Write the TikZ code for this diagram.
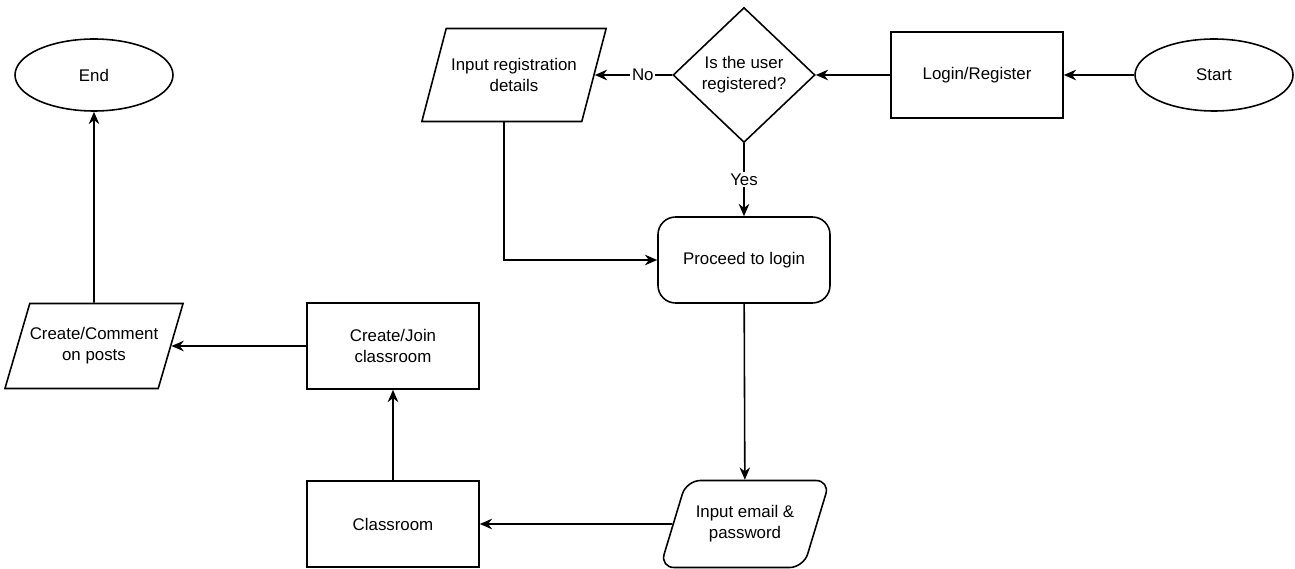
\documentclass[tikz,border=0pt]{standalone}
\usepackage{fontspec}
\setmainfont{Liberation Sans}
\usepackage{tikz}
\usetikzlibrary{positioning, arrows.meta, shapes.geometric}
\definecolor{inkgray}{RGB}{40,40,40}

\begin{document}
\begin{tikzpicture}[font=\fontsize{9.6}{12}\selectfont, >={Stealth[length=7pt, width=6pt]}, line width=0.9pt,
  term/.style={draw, ellipse, minimum width=3.16cm, minimum height=1.44cm, inner sep=0pt},
  procbox/.style={draw, rectangle, minimum width=3.44cm, minimum height=1.72cm, align=center},
  iobox/.style={draw, trapezium, trapezium left angle=56, trapezium right angle=124,
    trapezium stretches=true, align=center, inner sep=0pt},
  decide/.style={draw, diamond, minimum width=2.84cm, minimum height=2.7cm, inner sep=0pt, align=center},
  lbl/.style={fill=white, inner sep=1pt}]
  \useasboundingbox (0,0) rectangle (25.9,-11.38);
  % Top row
  \node[term] (start) at (24.28,-1.5) {Start};
  \node[procbox] (login) at (19.54,-1.5) {Login/Register};
  \node[decide] (ask) at (14.88,-1.5) {Is the user\\registered?};
  \node[iobox, minimum width=3.72cm, minimum height=1.86cm] (reginput) at (10.28,-1.5) {Input registration\\details};
  \node[term] (finish) at (1.88,-1.5) {End};
  % Middle and bottom rows
  \node[procbox, rounded corners=10pt] (proceed) at (14.88,-5.2) {Proceed to login};
  \node[iobox, trapezium left angle=59, trapezium right angle=121, rounded corners=8pt,
    minimum width=3.4cm, minimum height=1.74cm] (creds) at (14.9,-10.48) {Input email \&\\password};
  \node[procbox] (classroom) at (7.86,-10.48) {Classroom};
  \node[procbox] (joinroom) at (7.86,-6.92) {Create/Join\\classroom};
  \node[iobox, minimum width=3.36cm, minimum height=1.7cm] (posts) at (1.88,-6.92) {Create/Comment\\on posts};
  % Arrows
  \draw[->] (start) -- (login);
  \draw[->] (login) -- (ask);
  \draw[->] (ask) -- node[lbl, pos=0.38] {No} (reginput);
  \draw[->] (ask) -- node[lbl] {Yes} (proceed);
  \draw[->] ([xshift=-0.2cm]reginput.south) |- (proceed);
  \draw[->] (proceed) -- (creds);
  \draw[->] (creds) -- (classroom);
  \draw[->] (classroom) -- (joinroom);
  \draw[->] (joinroom) -- (posts);
  \draw[->] (posts) -- (finish);
\end{tikzpicture}
\end{document}
